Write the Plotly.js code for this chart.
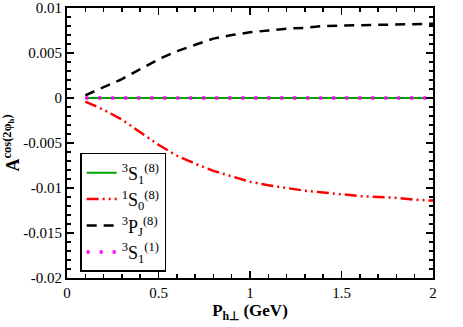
<!DOCTYPE html>
<html>
<head>
<meta charset="utf-8">
<script src="https://cdn.plot.ly/plotly-3.0.1.min.js"></script>
<style>
  body { margin: 0; background: #fff; }
  #chart { width: 463px; height: 327px; }
</style>
</head>
<body>
<div id="chart"></div>
<script>
// values
var pt = [0.1, 0.2, 0.3, 0.4, 0.5, 0.6, 0.7, 0.8, 0.9, 1.0,
          1.1, 1.2, 1.3, 1.4, 1.5, 1.6, 1.7, 1.8, 1.9, 2.0];

var s3_octet = [0, 0, 0, 0, 0, 0, 0, 0, 0, 0,
                0, 0, 0, 0, 0, 0, 0, 0, 0, 0];
var s1_octet = [-0.0004, -0.0013, -0.0024, -0.0038, -0.0052, -0.0064, -0.0073, -0.0081, -0.0087, -0.0093,
                -0.0097, -0.0100, -0.0103, -0.0105, -0.0107, -0.0109, -0.0110, -0.0111, -0.0113, -0.0114];
var pj_octet = [0.0003, 0.0012, 0.0021, 0.0032, 0.0043, 0.0052, 0.0059, 0.0066, 0.0070, 0.0073,
                0.0075, 0.0077, 0.0078, 0.0080, 0.00805, 0.0081, 0.00815, 0.0082, 0.0082, 0.00825];
var s3_singlet = [0, 0, 0, 0, 0, 0, 0, 0, 0, 0,
                  0, 0, 0, 0, 0, 0, 0, 0, 0, 0];

var xTicks = [0, 0.5, 1, 1.5, 2];
var xTickText = ["0", "0.5", "1", "1.5", "2"];
var yTicks = [-0.02, -0.015, -0.01, -0.005, 0, 0.005, 0.01];
var yTickText = ["-0.02", "-0.015", "-0.01", "-0.005", "0", "0.005", "0.01"];

var serif = "Liberation Serif";

var traces = [
  {x: pt, y: s3_octet, mode: "lines", name: "<sup>3</sup>S<sub>1</sub><sup>(8)</sup>",
   line: {color: "#00a000", width: 2}},
  {x: pt, y: s1_octet, mode: "lines", name: "<sup>1</sup>S<sub>0</sub><sup>(8)</sup>",
   line: {color: "#ff0000", width: 2.5, dash: "12px,4px,2px,4px,2px,4px"}},
  {x: pt, y: pj_octet, mode: "lines", name: "<sup>3</sup>P<sub>J</sub><sup>(8)</sup>",
   line: {color: "#000000", width: 2.5, dash: "10px,7px"}},
  {x: pt, y: s3_singlet, mode: "lines", name: "<sup>3</sup>S<sub>1</sub><sup>(1)</sup>",
   line: {color: "#ff00ff", width: 3.5, dash: "3px,10px"}}
];

var layout = {
  width: 463,
  height: 327,
  margin: {l: 67, r: 30, t: 8, b: 49},
  paper_bgcolor: "#ffffff",
  plot_bgcolor: "#ffffff",
  font: {family: serif, size: 14, color: "#000"},
  showlegend: true,
  legend: {
    x: 0.036, y: 0.463, xanchor: "left", yanchor: "top",
    bgcolor: "#ffffff", bordercolor: "#000", borderwidth: 1.5,
    font: {family: serif, size: 18, color: "#000"},
    tracegroupgap: 0
  },
  xaxis: {
    range: [0, 2],
    tickmode: "array", tickvals: xTicks, ticktext: xTickText,
    ticks: "inside", ticklen: 7, tickwidth: 1.5, tickcolor: "#000",
    minor: {dtick: 0.1, ticks: "inside", ticklen: 4, tickwidth: 1.5, tickcolor: "#000"},
    showline: true, linewidth: 2, linecolor: "#000", mirror: "allticks",
    showgrid: false, zeroline: false,
    tickfont: {family: serif, size: 15},
    title: {text: "<b>P<sub>h⊥</sub> (GeV)</b>", font: {family: serif, size: 17}, standoff: 4}
  },
  yaxis: {
    range: [-0.02, 0.01],
    tickmode: "array", tickvals: yTicks, ticktext: yTickText,
    ticks: "inside", ticklen: 7, tickwidth: 1.5, tickcolor: "#000",
    minor: {dtick: 0.001, ticks: "inside", ticklen: 4, tickwidth: 1.5, tickcolor: "#000"},
    showline: true, linewidth: 2, linecolor: "#000", mirror: "allticks",
    showgrid: false, zeroline: false,
    tickfont: {family: serif, size: 15},
    title: {text: "<b>A<sup>cos(2φ<sub>h</sub>)</sup></b>", font: {family: serif, size: 18}, standoff: 4}
  }
};

Plotly.newPlot("chart", traces, layout, {displayModeBar: false, staticPlot: true});
</script>
</body>
</html>
